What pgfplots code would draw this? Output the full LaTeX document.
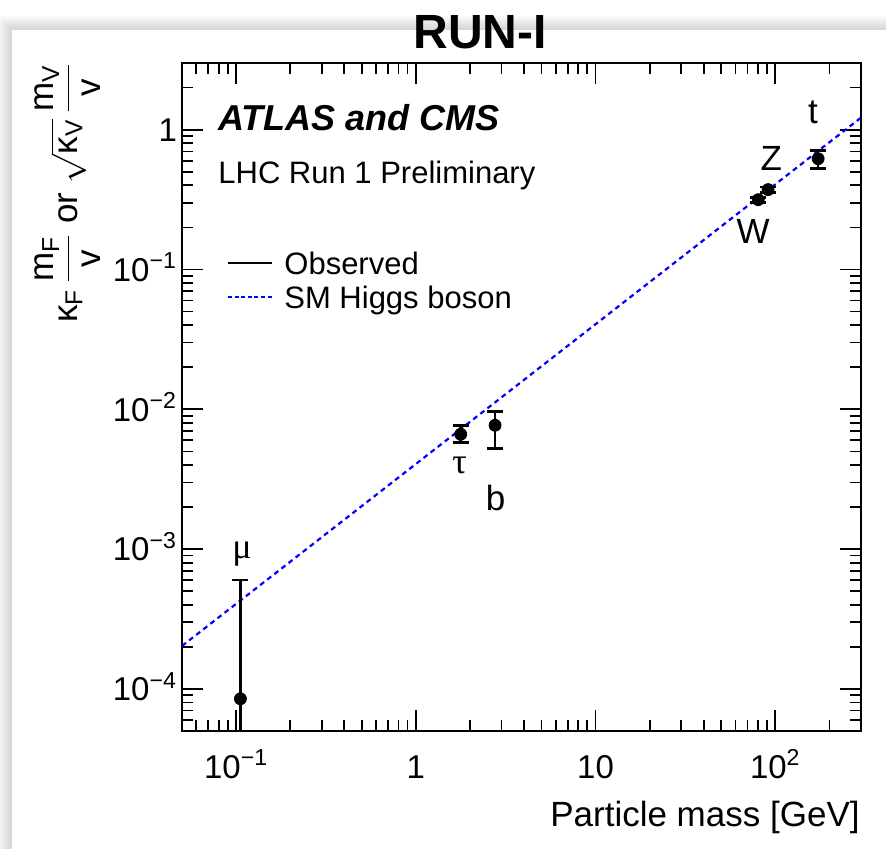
\documentclass[border=0pt]{standalone}
\usepackage{fontspec}
\setmainfont{Liberation Sans}
\newfontfamily\grserif{Liberation Serif}
\usepackage{amsmath}
\usepackage{pgfplots}
\pgfplotsset{compat=1.18}

\begin{document}
\begin{tikzpicture}
\path[use as bounding box] (0pt,0pt) rectangle (443pt,424pt);
% card with soft shadow
\foreach \i in {1,...,7} {\fill[black,opacity=0.025] (6pt-\i pt,-5pt) rectangle (450pt,409pt+\i pt);}
\fill[white] (6pt,-5pt) rectangle (450pt,409pt);

\begin{axis}[
    at={(91pt,58.5pt)}, anchor=south west,
    scale only axis, width=339.5pt, height=334pt,
    xmode=log, ymode=log,
    xmin=0.05, xmax=300, ymin=5e-5, ymax=3,
    axis line style={line width=0.85pt},
    tick style={line width=0.85pt, black},
    tick align=inside,
    major tick length=10.5pt, minor tick length=5.5pt,
    xtick={0.1,1,10,100},
    xticklabels={10\textsuperscript{−1},1,10,10\textsuperscript{2}},
    minor xtick={0.06,0.07,0.08,0.09,0.2,0.3,0.4,0.5,0.6,0.7,0.8,0.9,2,3,4,5,6,7,8,9,20,30,40,50,60,70,80,90,200},
    ytick={1e-4,1e-3,1e-2,1e-1,1},
    yticklabels={10\textsuperscript{−4},10\textsuperscript{−3},10\textsuperscript{−2},10\textsuperscript{−1},1},
    minor ytick={6e-5,7e-5,8e-5,9e-5,2e-4,3e-4,4e-4,5e-4,6e-4,7e-4,8e-4,9e-4,2e-3,3e-3,4e-3,5e-3,6e-3,7e-3,8e-3,9e-3,0.02,0.03,0.04,0.05,0.06,0.07,0.08,0.09,0.2,0.3,0.4,0.5,0.6,0.7,0.8,0.9,2},
    ticklabel style={font=\fontsize{16.5}{18}\selectfont},
    xticklabel style={anchor=base, yshift=-23.5pt},
    yticklabel style={anchor=base east, yshift=-5.9pt, xshift=1pt},
]
% SM expectation m/v
\addplot[blue, line width=1.1pt, dash pattern=on 2.5pt off 2pt] coordinates {(0.05,2.03e-4) (300,1.22)};

% observed
\addplot[black, only marks, mark=*, mark size=3pt,
    error bars/.cd, y dir=both, y explicit,
    error bar style={line width=1.3pt},
    error mark options={rotate=90, line width=1.3pt, mark size=4pt}]
coordinates {
    (0.1057,8.5e-5) += (0,5.15e-4) -= (0,8.49e-5)
    (1.777,6.63e-3) += (0,1.06e-3) -= (0,0.82e-3)
    (2.76,7.69e-3) += (0,1.99e-3) -= (0,2.43e-3)
    (80.4,0.316) += (0,0.013) -= (0,0.013)
    (91.2,0.373) += (0,0.016) -= (0,0.016)
    (173.2,0.62) += (0,0.088) -= (0,0.093)
};

\node[inner sep=0pt, anchor=base west, font=\fontsize{18}{20}\selectfont\bfseries\itshape] at ([xshift=18pt,yshift=-33.5pt]rel axis cs:0,1) {ATLAS and CMS};
\node[inner sep=0pt, anchor=base west, font=\fontsize{15.5}{18}\selectfont] at ([xshift=18pt,yshift=-60pt]rel axis cs:0,1) {LHC Run 1 Preliminary};

\draw[black, line width=1.1pt] ([xshift=23pt,yshift=-100pt]rel axis cs:0,1) -- ([xshift=45pt,yshift=-100pt]rel axis cs:0,1);
\node[inner sep=0pt, anchor=base west, font=\fontsize{15.5}{18}\selectfont] at ([xshift=51pt,yshift=-105.5pt]rel axis cs:0,1) {Observed};
\draw[blue, line width=1pt, dash pattern=on 2pt off 1.3pt] ([xshift=23pt,yshift=-117pt]rel axis cs:0,1) -- ([xshift=45pt,yshift=-117pt]rel axis cs:0,1);
\node[inner sep=0pt, anchor=base west, font=\fontsize{15.5}{18}\selectfont] at ([xshift=51pt,yshift=-122.5pt]rel axis cs:0,1) {SM Higgs boson};

\node[inner sep=0pt, anchor=base, font=\fontsize{17.5}{20}\selectfont] at (axis cs:162,1.10) {t};
\node[inner sep=0pt, anchor=base, font=\fontsize{17.5}{20}\selectfont] at (axis cs:95,0.51) {Z};
\node[inner sep=0pt, anchor=base, font=\fontsize{17.5}{20}\selectfont] at (axis cs:75.4,0.153) {W};
\node[inner sep=0pt, anchor=base, font=\fontsize{17.5}{20}\selectfont] at (axis cs:2.78,1.88e-3) {b};
\node[inner sep=0pt, anchor=base, font=\fontsize{18}{20}\selectfont\grserif] at (axis cs:1.75,3.5e-3) {τ};
\node[inner sep=0pt, anchor=base, font=\fontsize{18}{20}\selectfont\grserif] at (axis cs:0.108,8.6e-4) {μ};
\end{axis}

\node[inner sep=0pt, anchor=base east, font=\fontsize{17.5}{20}\selectfont] at (430pt,11pt) {Particle mass [GeV]};

\node[rotate=90, inner sep=0pt, anchor=east, font=\fontsize{17.5}{20}\selectfont] at (34pt,393pt)
  {$\text{κ}_{\text{F}}\,\dfrac{\text{m}_{\text{F}}}{\text{v}}$ or $\sqrt{\text{κ}_{\text{V}}}\,\dfrac{\text{m}_{\text{V}}}{\text{v}}$};

\node[font=\fontsize{24}{28}\selectfont\bfseries] at (240pt,408pt) {RUN-I};
\end{tikzpicture}
\end{document}
